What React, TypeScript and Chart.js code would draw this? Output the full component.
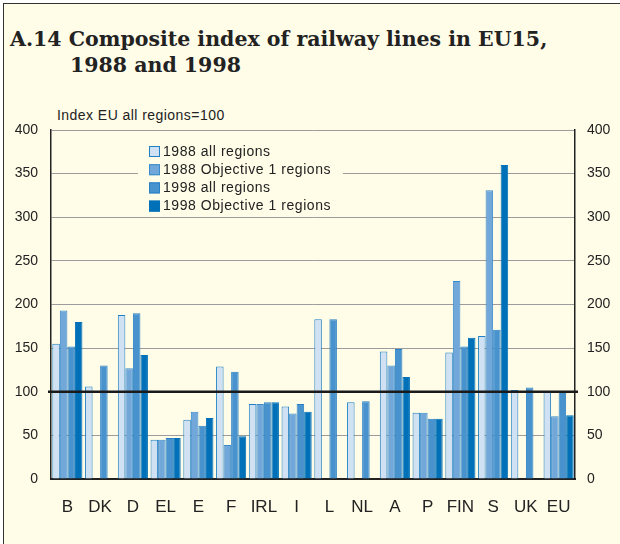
import React, { useEffect, useRef } from "react";
import { Chart, registerables } from "chart.js";

Chart.register(...registerables);

const categories = ["B", "DK", "D", "EL", "E", "F", "IRL", "I", "L", "NL", "A", "P", "FIN", "S", "UK", "EU"];
const all1988 = [155, 106, 188, 45, 68, 129, 86, 83, 183, 88, 146, 76, 145, 164, 102, 100];
const obj1988 = [193, null, 127, 45, 77, 39, 86, 75, null, null, 130, 76, 227, 331, null, 72];
const all1998 = [152, 130, 190, 47, 61, 123, 88, 86, 183, 89, 149, 69, 152, 171, 105, 100];
const obj1998 = [180, null, 142, 47, 70, 49, 88, 77, null, null, 117, 69, 162, 360, null, 73];
const seriesNames = ["1988 all regions", "1988 Objective 1 regions", "1998 all regions", "1998 Objective 1 regions"];
const yTicks = [0, 50, 100, 150, 200, 250, 300, 350, 400];

const fills = ["#cfe1f2", "#71a8d9", "#4892ce", "#0071b9"];
const borders = ["#1f80c3", "#3a8bcc", "#2a80c4", "#0071b9"];
const CREAM = "#fffce8";
const SANS = "'Liberation Sans', Arial, Helvetica, sans-serif";
const SERIF = "'DejaVu Serif', 'Liberation Serif', serif";

const refLinePlugin = {
  id: "refLine",
  afterDatasetsDraw(chart: any) {
    const { ctx, chartArea, scales } = chart;
    const y = scales.y.getPixelForValue(100);
    ctx.save();
    ctx.strokeStyle = "#1a1a1a";
    ctx.lineWidth = 2.5;
    ctx.beginPath();
    ctx.moveTo(chartArea.left - 3, y);
    ctx.lineTo(chartArea.right + 3, y);
    ctx.stroke();
    ctx.restore();
  },
};

const legendPlugin = {
  id: "customLegend",
  afterDatasetsDraw(chart: any) {
    const { ctx, chartArea } = chart;
    const x0 = chartArea.left + 98;
    const y0 = chartArea.top + 21.5;
    const step = 18.2;
    ctx.save();
    ctx.fillStyle = CREAM;
    ctx.fillRect(x0 - 11, y0 - 10, 205, step * 3 + 18);
    ctx.font = `14px ${SANS}`;
    try { (ctx as any).letterSpacing = "0.55px"; } catch (e) {}
    ctx.textBaseline = "middle";
    ctx.textAlign = "left";
    seriesNames.forEach((name, i) => {
      const cy = y0 + i * step;
      ctx.fillStyle = fills[i];
      ctx.fillRect(x0, cy - 5.5, 11, 11);
      ctx.strokeStyle = borders[i];
      ctx.lineWidth = 1;
      ctx.strokeRect(x0 + 0.5, cy - 5, 10, 10);
      ctx.fillStyle = "#222";
      ctx.fillText(name, x0 + 14, cy + 0.5);
    });
    ctx.restore();
  },
};

export default function App() {
  const ref = useRef<HTMLCanvasElement | null>(null);

  useEffect(() => {
    if (!ref.current) return;
    const series = [all1988, obj1988, all1998, obj1998];
    const chart = new Chart(ref.current, {
      type: "bar",
      data: {
        labels: categories,
        datasets: series.map((d, i) => ({
          label: seriesNames[i],
          data: d,
          backgroundColor: fills[i],
          borderColor: borders[i],
          borderWidth: 1,
          categoryPercentage: 0.92,
          barPercentage: 1,
          yAxisID: "y",
        })),
      },
      options: {
        animation: false,
        responsive: false,
        devicePixelRatio: 1,
        layout: { padding: { top: 30, left: 0, right: 0, bottom: 0 } },
        plugins: { legend: { display: false }, tooltip: { enabled: false } },
        scales: {
          x: {
            grid: { display: false, drawTicks: false },
            border: { display: true, color: "#222", width: 2 },
            ticks: { color: "#222", font: { size: 17, family: SANS }, padding: 18, maxRotation: 0, autoSkip: false },
            afterFit: (s: any) => { s.height = 65; },
          },
          y: {
            position: "left",
            min: 0,
            max: 400,
            afterBuildTicks: (s: any) => { s.ticks = yTicks.map((v) => ({ value: v })); },
            grid: { color: "#9c9c9c", lineWidth: 1, drawTicks: false },
            border: { display: true, color: "#222", width: 1.5 },
            ticks: { color: "#222", font: { size: 14, family: SANS }, padding: 13 },
            afterFit: (s: any) => { s.width = 51; },
          },
          y2: {
            position: "right",
            min: 0,
            max: 400,
            afterBuildTicks: (s: any) => { s.ticks = yTicks.map((v) => ({ value: v })); },
            grid: { display: false, drawTicks: false },
            border: { display: true, color: "#222", width: 1.5 },
            ticks: { color: "#222", font: { size: 14, family: SANS }, padding: 12 },
            afterFit: (s: any) => { s.width = 45; },
          },
        },
      },
      plugins: [refLinePlugin, legendPlugin],
    } as any);
    return () => chart.destroy();
  }, []);

  const titleStyle: React.CSSProperties = {
    position: "absolute",
    fontFamily: SERIF,
    fontWeight: "bold",
    fontSize: 20.5,
    lineHeight: "23px",
    color: "#222",
    whiteSpace: "nowrap",
  };

  return (
    <div style={{ position: "absolute", left: 0, top: 0, width: 620, height: 544, background: "#fff", overflow: "hidden" }}>
      <div
        style={{
          position: "absolute",
          left: 3,
          top: 3,
          width: 660,
          height: 600,
          background: CREAM,
          borderLeft: "1.5px solid #333",
          borderTop: "1.5px solid #333",
        }}
      />
      <div style={{ ...titleStyle, left: 10, top: 27.5 }}>A.14 Composite index of railway lines in EU15,</div>
      <div style={{ ...titleStyle, left: 70, top: 53.5 }}>1988 and 1998</div>
      <div
        style={{
          position: "absolute",
          left: 57,
          top: 108,
          fontFamily: SANS,
          fontSize: 14,
          letterSpacing: "0.45px",
          lineHeight: "15px",
          color: "#222",
          whiteSpace: "nowrap",
        }}
      >
        Index EU all regions=100
      </div>
      <canvas ref={ref} width={620} height={444} style={{ position: "absolute", left: 0, top: 100, width: 620, height: 444 }} />
    </div>
  );
}
